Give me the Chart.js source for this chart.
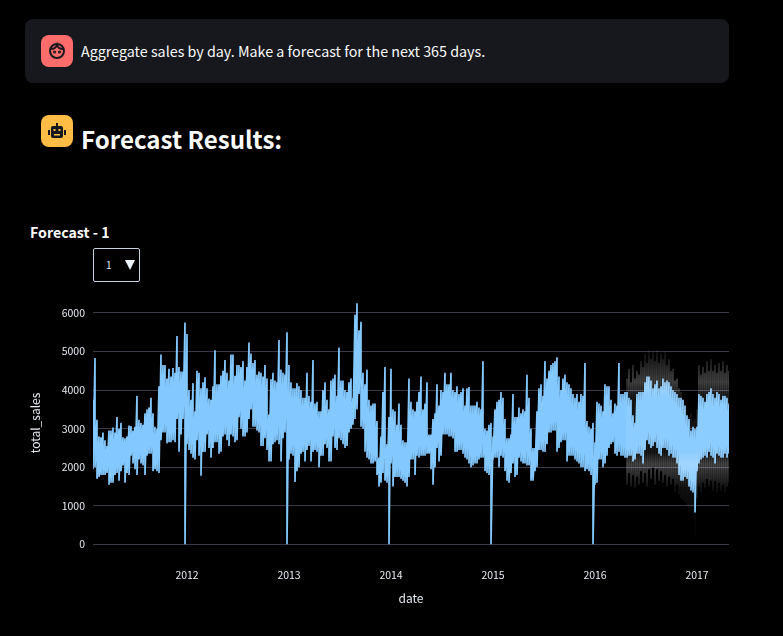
<!DOCTYPE html>
<html>
<head>
<meta charset="utf-8">
<title>Forecast Results</title>
<script src="https://cdn.jsdelivr.net/npm/chart.js@4"></script>
<style>
    html, body { margin: 0; background: #000; }
    body { width: 783px; height: 636px; position: relative; overflow: hidden; color: #fafafa; font-family: "Noto Sans CJK JP", sans-serif; }
    .message { position: absolute; left: 25px; top: 19px; width: 704px; height: 64px; background: #16181d; border-radius: 8px; }
    .avatar { position: absolute; left: 41px; width: 32px; height: 32px; border-radius: 8px; }
    .avatar svg { display: block; margin: 4px; }
    #userIcon { top: 35px; background: #ff6c6c; }
    #botIcon { top: 115px; background: #ffbd45; }
    #prompt { position: absolute; left: 81px; top: 41px; font-size: 14.3px; line-height: 20px; white-space: nowrap; }
    #heading { position: absolute; left: 81px; top: 121px; font-size: 24.1px; line-height: 36px; font-weight: 700; white-space: nowrap; }
    #chartTitle { position: absolute; left: 30px; top: 223px; font-size: 14.2px; line-height: 18px; font-weight: 700; white-space: nowrap; }
    #picker { position: absolute; left: 93px; top: 248px; width: 45px; height: 32px; border: 1px solid #c8d0e0; border-radius: 2px; }
    #picker span { position: absolute; left: 12px; top: 10px; font-size: 10px; line-height: 12px; color: #d5e8fb; }
    #picker i { position: absolute; left: 31px; top: 11px; width: 0; height: 0; border-left: 5px solid transparent; border-right: 5px solid transparent; border-top: 10px solid #eef4fb; }
    #salesChart { position: absolute; left: 28px; top: 287px; }
</style>
</head>
<body>
<div class="message"></div>
<div class="avatar" id="userIcon">
    <svg width="24" height="24" viewBox="0 0 24 24" fill="none" stroke="#16181d" stroke-width="2">
        <circle cx="12" cy="12" r="7"/><path d="M6 10c3 0 5-1 6-4 1 3 3 4 6 4"/>
        <circle cx="9.5" cy="13" r=".6"/><circle cx="14.5" cy="13" r=".6"/>
    </svg>
</div>
<div id="prompt">Aggregate sales by day. Make a forecast for the next 365 days.</div>
<div class="avatar" id="botIcon">
    <svg width="24" height="24" viewBox="0 0 24 24" fill="#16181d">
        <rect x="6" y="7" width="12" height="12" rx="2"/><rect x="3" y="11" width="2" height="5"/><rect x="19" y="11" width="2" height="5"/><rect x="11" y="4" width="2" height="3"/>
        <rect x="8.5" y="10" width="2" height="2" fill="#ffbd45"/><rect x="13.5" y="10" width="2" height="2" fill="#ffbd45"/><rect x="9" y="15" width="6" height="1.5" fill="#ffbd45"/>
    </svg>
</div>
<div id="heading">Forecast Results:</div>
<div id="chartTitle">Forecast - 1</div>
<div id="picker"><span>1</span><i></i></div>
<canvas id="salesChart" width="755" height="319"></canvas>

<script>
// daily sales envelope, one high and one low per sample, 51 samples a year
const firstYear = 2011.078;
const samplesPerYear = 51;

const high2011 = [3750,4830,3230,2800,2780,2900,2700,2550,2950,2950,3030,2900,3300,3000,3150,2780,2750,2800,3080,3070,2950,3050,3850,3230,3150,3100,3400,3500,3550,3800,3400,3050,3000,4100,4920,4650,4650,4300,4550,4350,4570,4450,5400,4600,4480,4480,5750];
const high2012 = [5450,4000,3750,4180,3450,4500,4450,4050,4200,4330,4050,3780,3750,4100,5030,4150,4150,4380,4500,4780,4450,4250,4920,4920,4370,4650,4650,4600,4750,4250,4600,5230,4950,4700,4780,4400,4480,4450,4350,4650,4300,3370,4280,4450,4250,4200,5300,4530,4450,4400,5500];
const high2013 = [4650,4200,4050,4050,4180,4100,4000,3800,3800,4450,3850,3700,4780,3650,3700,3450,3450,4000,4200,3750,3500,4250,4300,4400,3850,5100,4250,4250,4000,3950,4200,4300,3800,5950,6250,5550,5770,4450,4150,4530,3750,3600,3650,3650,3200,2250,2800,3950,4600,2600,3300];
const high2014 = [4550,3500,3450,3100,3650,3100,2700,2650,2650,4300,3700,3500,3450,3700,3950,4350,3500,3650,4200,2850,2850,3250,3400,4150,3600,4000,3950,4450,4150,4150,4450,4000,3950,4100,3900,3950,4050,3600,4050,4080,3600,3600,3600,3700,3550,3500,4750,3000,2950,3100,3150];
const high2015 = [2800,3500,3700,3750,3950,3800,3250,2750,2750,2850,3900,3300,3300,3550,3400,3500,3450,4400,3800,3000,2500,2500,3450,4050,4150,3850,4750,4300,4500,4650,4700,4750,4850,4350,4000,4300,4400,4200,4150,4050,3900,3800,3900,3700,3900,3850,4700,3200,3050,3000,3150];
const high2016 = [2650,3700,3650,3600,3450,4150,4100,4100,3750,3400,3650,3600,4700,3900,3900,3950,3950,3800,3750,3350,3150,3900,3950,3950,3950,4200,4350,4350,4250,4050,4150,4250,4050,4100,4300,4200,4250,4200,4100,4000,3950,3900,3800,3800,3750,3600,3350,3250,2950,3050,3000];
const high2017 = [3050,3900,3850,3800,3700,3900,3950,4050,3900,3800,3950,3900,3750,3850,3850,3800,3650];

const low2011 = [1950,2000,1700,1750,1800,1800,1800,1850,1550,1600,1600,1800,1850,1650,1900,2050,1600,1850,1800,2300,2100,1950,1800,2200,2100,2050,1800,2300,2350,2350,1900,1950,1900,1850,2700,2900,2900,2620,2650,2650,2700,2650,3250,2400,2850,3250,0];
const low2012 = [2600,2450,2350,2250,2200,2700,2300,1780,2400,2400,2850,2500,2250,2500,2650,2650,2350,2400,2800,2850,2700,2550,2850,2800,2650,2700,3300,3000,2800,2800,2900,3250,3500,3050,3050,2950,2900,2550,2550,2750,2450,2150,2150,2600,2650,2700,2600,2150,2750,2900,0];
const low2013 = [2200,2350,2300,1620,1900,2000,2350,2400,2150,2450,2550,2150,2400,2450,2400,2000,2300,2300,2600,2500,2150,2150,2800,2500,2450,2750,2700,2600,2500,2550,2900,3000,3100,3250,3500,3900,3050,3000,2400,2250,2200,2100,2100,2150,1800,1500,1600,1850,1650,1600,0];
const low2014 = [2100,1500,1750,1750,1750,1700,1650,1600,1500,1750,2200,2200,1800,2300,2250,2300,2300,2300,2350,2350,1950,1550,2000,2500,2150,2300,2850,2850,2850,2800,2800,2750,2400,2400,2450,2450,2350,2250,2200,2100,2000,2050,2100,2100,2200,2250,2250,1900,1850,1800,0];
const low2015 = [2200,2250,2250,2000,2300,2250,1900,1650,1600,1850,2100,1750,1800,2250,2150,2100,2100,2050,2050,1650,1650,1900,2000,2450,2450,2400,2400,2600,2900,2900,2950,2950,2400,2500,2650,2700,2700,2150,2300,2300,2300,2200,2150,2100,2000,2000,1900,1950,1900,1800,0];
const low2016 = [1550,1600,2200,2200,2000,2100,2300,2500,2600,2650,2350,2300,2400,2300,2300,2250,2250,2300,2300,2150,2200,2350,2350,2300,2100,2450,2700,2600,2500,2550,2650,2500,2350,2300,2500,2500,2450,2300,2350,2250,2250,2100,1800,1650,1650,1750,1700,1500,1400,1350,830];
const low2017 = [1900,2100,2200,2250,2300,2250,2400,2300,2250,2100,2350,2300,2250,2250,2350,2250,2350];

// forecast interval, starts at sample 267 (spring 2016)
const forecastStart = 267;
const forecastUpper = [4300,4550,4200,4650,4300,4500,4400,4750,4600,4950,4700,5050,4800,5000,4750,5050,4700,4950,4800,5000,4650,4800,4500,4550,4250,4300,4050,3950,3750,3600,3350,3300,3400,3200,3250,3500,4650,4400,4600,4450,4750,4500,4800,4500,4650,4450,4700,4500,4750,4450,4650,4500];
const forecastLower = [1550,1850,1500,1800,1450,1750,1550,1900,1600,1850,1500,1950,1700,2000,1550,1950,1650,1900,1600,1800,1500,1750,1550,1700,1350,1550,1300,1200,1150,1100,1000,950,850,700,150,1200,1500,1350,1600,1450,1700,1500,1650,1400,1650,1350,1600,1400,1550,1350,1500,1600];

const xTicks = [2012, 2013, 2014, 2015, 2016, 2017];
const yTicks = [0, 1000, 2000, 3000, 4000, 5000, 6000];

const highs = [...high2011, ...high2012, ...high2013, ...high2014, ...high2015, ...high2016, ...high2017];
const lows = [...low2011, ...low2012, ...low2013, ...low2014, ...low2015, ...low2016, ...low2017];
const yearOf = i => firstYear + i / samplesPerYear;

const salesPoints = [];
highs.forEach((h, i) => {
    salesPoints.push({ x: yearOf(i), y: h });
    salesPoints.push({ x: yearOf(i), y: lows[i] });
});

const forecastPoints = [];
forecastUpper.forEach((u, i) => {
    forecastPoints.push({ x: yearOf(forecastStart + i), y: u });
    forecastPoints.push({ x: yearOf(forecastStart + i), y: forecastLower[i] });
});

// the interval fades out away from the core, only a hint of it over the core
function bandColor(context) {
    const { chart } = context;
    if (!chart.chartArea) return 'rgba(255,255,255,0.1)';
    const y = chart.scales.y;
    const gradient = chart.ctx.createLinearGradient(0, y.getPixelForValue(5200), 0, y.getPixelForValue(0));
    gradient.addColorStop(0, 'rgba(255,255,255,0)');
    gradient.addColorStop(0.19, 'rgba(255,255,255,0.16)');
    gradient.addColorStop(0.27, 'rgba(255,255,255,0.05)');
    gradient.addColorStop(0.54, 'rgba(255,255,255,0.05)');
    gradient.addColorStop(0.6, 'rgba(255,255,255,0.17)');
    gradient.addColorStop(0.72, 'rgba(255,255,255,0.04)');
    gradient.addColorStop(1, 'rgba(255,255,255,0)');
    return gradient;
}

const tickFont = { family: '"Noto Sans CJK JP", sans-serif', size: 10.5 };
const titleFont = { family: '"Noto Sans CJK JP", sans-serif', size: 12 };

new Chart(document.getElementById('salesChart'), {
    type: 'line',
    data: {
        datasets: [
            { label: 'forecast interval', data: forecastPoints, borderColor: bandColor, borderWidth: 0.8, pointRadius: 0, tension: 0, order: 0 },
            { label: 'total_sales', data: salesPoints, borderColor: '#83c9ff', borderWidth: 1.7, pointRadius: 0, tension: 0, order: 1 }
        ]
    },
    options: {
        responsive: false,
        animation: false,
        layout: { padding: { top: 7.8, right: 54, left: 0, bottom: 0 } },
        plugins: { legend: { display: false }, tooltip: { enabled: false } },
        scales: {
            x: {
                type: 'linear',
                min: firstYear,
                max: yearOf(highs.length - 1),
                grid: { display: false },
                border: { display: false },
                afterBuildTicks: scale => { scale.ticks = xTicks.map(value => ({ value })); },
                afterFit: scale => { scale.height = 61.5; },
                ticks: { color: '#e6eaf1', font: tickFont, padding: 16, maxRotation: 0, callback: v => String(v) },
                title: { display: true, text: 'date', color: '#e6eaf1', font: titleFont, padding: 0 }
            },
            y: {
                min: 0,
                max: 6300,
                grid: { color: '#3a3a48', lineWidth: 1, drawTicks: false },
                border: { display: false },
                afterBuildTicks: scale => { scale.ticks = yTicks.map(value => ({ value })); },
                afterFit: scale => { scale.width = 65; },
                ticks: { color: '#e6eaf1', font: tickFont, padding: 8, callback: v => String(v) },
                title: { display: true, text: 'total_sales', color: '#e6eaf1', font: titleFont, padding: 0 }
            }
        }
    }
});
</script>
</body>
</html>
